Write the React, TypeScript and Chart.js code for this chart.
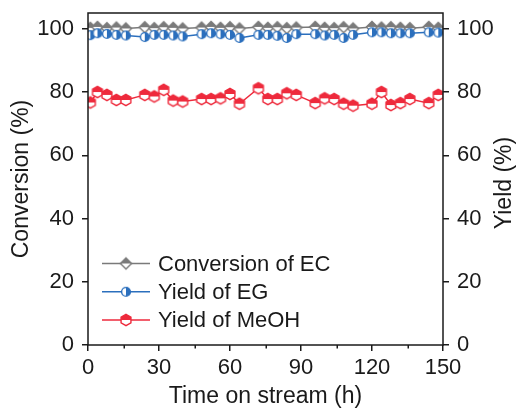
import React, { useEffect, useRef } from 'react';
import { Chart, registerables } from 'chart.js';

Chart.register(...registerables);

// ---- data ----
const hours = [1, 4, 8, 12, 16, 24, 28, 32, 36, 40, 48, 52, 56, 60, 64, 72, 76, 80, 84, 88, 96, 100, 104, 108, 112, 120, 124, 128, 132, 136, 144, 148];
const conversionEC = [100.3, 100.6, 100.2, 100.4, 100.1, 100.5, 100.2, 100.5, 100.3, 100.1, 100.4, 100.6, 100.3, 100.5, 100.1, 100.6, 100.3, 100.5, 100.2, 100.4, 100.6, 100.3, 100.2, 100.5, 100.1, 100.6, 100.4, 100.5, 100.3, 100.2, 100.6, 100.3];
const yieldEG = [98.0, 98.6, 98.4, 98.1, 97.9, 97.4, 98.1, 98.1, 97.9, 97.6, 98.3, 98.6, 98.3, 98.1, 97.1, 98.1, 98.1, 97.8, 97.1, 98.3, 98.3, 97.9, 98.1, 97.1, 98.1, 98.9, 98.9, 98.6, 98.6, 98.6, 98.9, 98.8];
const yieldMeOH = [76.7, 80.0, 79.1, 77.5, 77.5, 79.1, 78.6, 80.7, 77.3, 77.0, 77.8, 77.8, 78.0, 79.4, 76.3, 81.2, 77.8, 77.8, 79.6, 79.1, 76.5, 78.0, 77.8, 76.3, 75.7, 76.3, 80.0, 75.9, 76.5, 77.8, 76.5, 79.1];

const seriesNames = ['Conversion of EC', 'Yield of EG', 'Yield of MeOH'];
const xTicks = [0, 30, 60, 90, 120, 150];
const xMinorTicks = [15, 45, 75, 105, 135];
const yTicks = [0, 20, 40, 60, 80, 100];
const xTitle = 'Time on stream (h)';
const yTitle = 'Conversion (%)';
const y2Title = 'Yield (%)';

const GRAY = '#7a7a7a';
const BLUE = '#2b6fbd';
const RED = '#ee2a3c';
const INK = '#1a1a1a';
const FONT = '"Liberation Sans", Arial, Helvetica, sans-serif';

type Kind = 'diamond' | 'circle' | 'hexagon';

function makeMarker(kind: Kind, color: string): HTMLCanvasElement {
  const s = 16;
  const c = document.createElement('canvas');
  c.width = s;
  c.height = s;
  const ctx = c.getContext('2d')!;
  const m = s / 2;
  const path = () => {
    ctx.beginPath();
    if (kind === 'diamond') {
      const r = 5.6;
      ctx.moveTo(m, m - r);
      ctx.lineTo(m + r, m);
      ctx.lineTo(m, m + r);
      ctx.lineTo(m - r, m);
      ctx.closePath();
    } else if (kind === 'circle') {
      ctx.arc(m, m, 4.4, 0, Math.PI * 2);
    } else {
      const r = 5.7;
      for (let i = 0; i < 6; i++) {
        const a = -Math.PI / 2 + (i * Math.PI) / 3;
        const px = m + r * Math.cos(a);
        const py = m + r * Math.sin(a);
        if (i === 0) ctx.moveTo(px, py);
        else ctx.lineTo(px, py);
      }
      ctx.closePath();
    }
  };
  path();
  ctx.fillStyle = '#ffffff';
  ctx.fill();
  ctx.save();
  path();
  ctx.clip();
  ctx.fillStyle = color;
  if (kind === 'circle') ctx.fillRect(m, 0, m, s);
  else ctx.fillRect(0, 0, s, m);
  ctx.restore();
  path();
  ctx.strokeStyle = color;
  ctx.lineWidth = 1.4;
  ctx.stroke();
  return c;
}

const decorPlugin = {
  id: 'decor',
  afterDraw(chart: any) {
    const { ctx, chartArea: a, scales } = chart;
    ctx.save();
    // frame
    ctx.strokeStyle = INK;
    ctx.lineWidth = 1.5;
    ctx.strokeRect(a.left, a.top, a.right - a.left, a.bottom - a.top);
    // minor x ticks
    ctx.beginPath();
    xMinorTicks.forEach((v) => {
      const px = Math.round(scales.x.getPixelForValue(v)) + 0.25;
      ctx.moveTo(px, a.bottom);
      ctx.lineTo(px, a.bottom + 3.5);
    });
    ctx.stroke();
    // right title
    ctx.fillStyle = INK;
    ctx.font = `23px ${FONT}`;
    ctx.textAlign = 'center';
    ctx.textBaseline = 'middle';
    ctx.save();
    ctx.translate(505, (a.top + a.bottom) / 2 + 4);
    ctx.rotate(-Math.PI / 2);
    ctx.fillText(y2Title, 0, 0);
    ctx.restore();
    // legend
    ctx.font = `22px ${FONT}`;
    const rows = [263.5, 291.8, 320];
    chart.data.datasets.forEach((ds: any, i: number) => {
      const y = rows[i];
      ctx.strokeStyle = ds.borderColor;
      ctx.lineWidth = 1.5;
      ctx.beginPath();
      ctx.moveTo(102, y);
      ctx.lineTo(150, y);
      ctx.stroke();
      const img = ds.pointStyle as HTMLCanvasElement;
      ctx.drawImage(img, 126 - img.width / 2, y - img.height / 2);
      ctx.fillStyle = INK;
      ctx.textAlign = 'left';
      ctx.textBaseline = 'middle';
      ctx.fillText(ds.label, 158, y + 1);
    });
    ctx.restore();
  },
};

export default function App() {
  const ref = useRef<HTMLCanvasElement>(null);

  useEffect(() => {
    if (!ref.current) return;
    const font = { family: FONT, size: 22 };
    const titleFont = { family: FONT, size: 23 };
    const tickGrid = {
      drawOnChartArea: false,
      drawTicks: true,
      tickLength: 6,
      color: INK,
      lineWidth: 1.5,
    };
    const fitY = (w: number) => (s: any) => {
      s.width = w;
      s.paddingTop = 0;
      s.paddingBottom = 0;
    };
    const mk = (vals: number[]) => hours.map((h, i) => ({ x: h, y: vals[i] }));
    const chart = new Chart(ref.current, {
      type: 'line',
      data: {
        datasets: [
          {
            label: seriesNames[0],
            data: mk(conversionEC),
            borderColor: GRAY,
            backgroundColor: GRAY,
            borderWidth: 1.5,
            pointStyle: makeMarker('diamond', GRAY),
            order: 1,
          },
          {
            label: seriesNames[1],
            data: mk(yieldEG),
            borderColor: BLUE,
            backgroundColor: BLUE,
            borderWidth: 1.5,
            pointStyle: makeMarker('circle', BLUE),
            order: 0,
          },
          {
            label: seriesNames[2],
            data: mk(yieldMeOH),
            borderColor: RED,
            backgroundColor: RED,
            borderWidth: 1.5,
            pointStyle: makeMarker('hexagon', RED),
            order: 2,
          },
        ] as any,
      },
      options: {
        animation: false,
        responsive: false,
        maintainAspectRatio: false,
        layout: { padding: { top: 13, left: 0, right: 0, bottom: 0 } },
        plugins: { legend: { display: false }, tooltip: { enabled: false } },
        elements: { line: { tension: 0 } },
        scales: {
          x: {
            type: 'linear',
            min: 0,
            max: 150,
            afterBuildTicks: (s: any) => {
              s.ticks = xTicks.map((v) => ({ value: v }));
            },
            afterFit: (s: any) => {
              s.height = 71;
              s.paddingLeft = 0;
              s.paddingRight = 0;
            },
            ticks: { font, color: INK, padding: 4, maxRotation: 0, autoSkip: false },
            grid: tickGrid,
            border: { display: false },
            title: { display: true, text: xTitle, font: titleFont, color: INK, padding: { top: 0, bottom: 6 } },
          },
          y: {
            type: 'linear',
            position: 'left',
            min: 0,
            max: 105,
            afterBuildTicks: (s: any) => {
              s.ticks = yTicks.map((v) => ({ value: v }));
            },
            afterFit: fitY(88),
            ticks: { font, color: INK, padding: 8 },
            grid: tickGrid,
            border: { display: false },
            title: { display: true, text: yTitle, font: titleFont, color: INK, padding: { top: 8, bottom: 0 } },
          },
          y2: {
            type: 'linear',
            position: 'right',
            min: 0,
            max: 105,
            afterBuildTicks: (s: any) => {
              s.ticks = yTicks.map((v) => ({ value: v }));
            },
            afterFit: fitY(76),
            ticks: { font, color: INK, padding: 8 },
            grid: tickGrid,
            border: { display: false },
          },
        },
      } as any,
      plugins: [decorPlugin],
    });
    return () => chart.destroy();
  }, []);

  return (
    <div style={{ position: 'absolute', left: 0, top: 0, width: 519, height: 416, background: '#fff' }}>
      <canvas ref={ref} width={519} height={416} style={{ display: 'block', width: 519, height: 416 }} />
    </div>
  );
}
